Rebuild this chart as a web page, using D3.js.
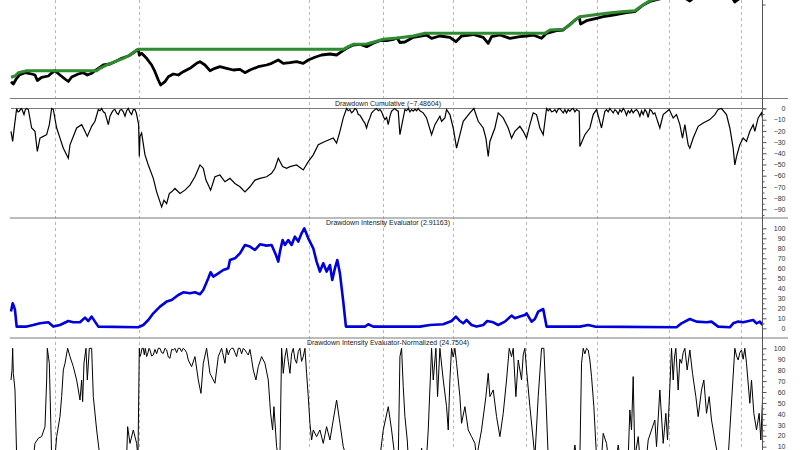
<!DOCTYPE html>
<html><head><meta charset="utf-8">
<script src="https://cdn.jsdelivr.net/npm/d3@7"></script>
<style>body{margin:0;background:#fff}svg{display:block}</style>
</head><body><svg id="c" width="800" height="450"></svg>
<script>
// ---- data: [day, value] ----
const priceLine = [[33,16.3],[40,14],[50,19.7],[58,23],[75,25.3],[95,24],[105,23],[112,17.5],[125,20.7],[145,22],[155,25],[165,27.3],[180,23],[195,19],[205,16.5],[215,21],[235,24],[250,25.3],[262,23],[275,24.7],[285,27.3],[295,29.7],[310,33],[330,34],[345,36.3],[365,39.7],[385,42],[405,46.3],[415,48.7],[418,43],[425,44.7],[440,39.7],[455,33],[465,26.3],[475,18],[482,13],[495,16.3],[505,21.3],[520,24],[535,23],[550,26.3],[570,29.7],[590,34.7],[600,36.3],[615,33],[630,27.3],[645,29.7],[660,31.3],[680,29.7],[700,28],[720,28.7],[735,25.3],[750,28],[775,31.3],[800,33],[815,34.7],[835,38],[850,34.7],[870,35.3],[890,36.3],[910,34.7],[925,38],[945,40.7],[965,43],[990,44],[1010,43],[1025,46.3],[1040,49.7],[1060,53],[1080,53.7],[1100,51.3],[1120,54.7],[1140,57.3],[1160,57.3],[1180,58.7],[1192,60],[1200,55.5],[1215,56],[1240,60.7],[1280,63],[1295,59.7],[1320,62],[1350,60.7],[1368,56.3],[1385,62],[1420,63.5],[1450,60.7],[1465,54.7],[1475,61.3],[1500,63],[1530,59.7],[1560,61.3],[1580,62],[1600,63],[1625,59.7],[1640,64.7],[1670,67.3],[1690,68],[1720,76.3],[1738,81],[1742,74],[1760,77.3],[1790,79.7],[1810,81.3],[1840,83],[1880,85.3],[1905,86.3],[1930,93],[1950,96.5],[1990,100],[2040,102],[2050,101],[2070,97],[2085,101],[2120,104],[2160,106],[2190,104],[2205,96],[2225,101],[2260,104],[2288,106]];

const peakLine = [[33,20.7],[45,22],[55,25.3],[80,27.3],[290,27.3],[300,29.7],[320,33],[345,36.3],[370,39.7],[390,43],[410,48],[418,48.7],[1030,48.7],[1045,51.3],[1060,53.7],[1100,54],[1125,56.3],[1150,58.7],[1192,60],[1240,62],[1275,64.7],[1635,64.7],[1650,68],[1690,68.7],[1710,73],[1725,78],[1740,81.3],[1780,83],[1820,84.7],[1865,86.3],[1905,87.3],[1925,92],[1945,96.3],[1960,98.5],[2000,100.5],[2060,103.5],[2120,105],[2180,107],[2288,108]];

const drawdown = [[33,-20.4],[38,-29.4],[42,-18.9],[50,0],[54,-3],[58,-2.4],[62,-0.5],[65,0],[72,-5.4],[76,-1],[80,0],[85,-0.9],[95,-17.4],[105,-20.4],[112,-38.4],[120,-26.4],[130,-24.9],[140,-23.4],[148,-14.4],[155,0],[160,-0.9],[170,-17.4],[180,-26.4],[190,-35.4],[205,-44.4],[210,-32.4],[222,-23.4],[230,-17.4],[245,-14.4],[255,-20.4],[262,-24.9],[275,-15.9],[285,-11.4],[295,-0.9],[300,-2],[305,0],[310,-3],[315,-3.9],[320,-9],[325,-14.4],[330,-7],[335,-3.9],[340,-1.5],[345,-0.9],[350,-4],[355,-5.4],[360,-1.5],[365,-0.9],[370,-3],[375,-6.9],[380,-2],[385,0],[390,-3.5],[395,-5.4],[400,-1],[405,-0.9],[409,-4],[412,-8.4],[416,-14.4],[418,-42.9],[420,-24.9],[425,-21.9],[435,-41.4],[445,-50.4],[460,-62.4],[470,-74.4],[480,-83.4],[485,-87.9],[492,-81.9],[500,-84.9],[508,-75.9],[515,-74.4],[525,-71.4],[540,-75.9],[555,-72.9],[570,-68.4],[585,-60.9],[600,-50.4],[610,-53.4],[618,-63.9],[625,-68.4],[632,-72.9],[645,-60.9],[660,-59.4],[675,-65.4],[690,-62.4],[705,-66.9],[720,-69.9],[735,-74.4],[750,-69.9],[765,-63.9],[780,-62.4],[800,-60.9],[815,-57.9],[825,-53.4],[835,-44.4],[848,-51.9],[860,-53.4],[870,-51.9],[890,-50.4],[910,-54.9],[925,-47.4],[940,-41.4],[955,-32.4],[975,-29.4],[1000,-26.4],[1010,-30.9],[1020,-20.4],[1030,-8.4],[1040,0],[1045,-2],[1050,-1],[1055,-3.9],[1060,-2.5],[1065,0],[1070,-1],[1075,-5.4],[1080,-6],[1085,-8.4],[1090,-11],[1095,-13],[1100,-17.4],[1105,-12],[1110,-8.4],[1115,-4],[1120,-2.4],[1125,-1],[1130,0],[1135,-2],[1140,-0.9],[1145,-3],[1150,-6.9],[1155,-10],[1160,-8],[1165,-14.4],[1170,-7],[1175,-2.4],[1180,-1],[1185,0],[1190,-1.5],[1195,-2.4],[1200,-23.4],[1215,-0.9],[1220,-2],[1225,0],[1230,-3],[1235,-1],[1240,-2.4],[1245,-0.5],[1250,-2],[1255,0],[1260,-2],[1270,-3.9],[1280,-8.4],[1295,-23.4],[1305,-14.4],[1320,-6.9],[1325,-11.4],[1335,-8.4],[1340,-0.9],[1350,-5.4],[1360,-17.4],[1370,-35.4],[1380,-23.4],[1390,-11.4],[1410,-3.9],[1422,0],[1435,-11.4],[1450,-17.4],[1458,-26.4],[1465,-42.9],[1470,-29.4],[1485,-17.4],[1495,-3.9],[1510,-8.4],[1525,-17.4],[1535,-26.4],[1545,-20.4],[1560,-15.9],[1570,-20.4],[1580,-26.4],[1590,-14.4],[1600,-3.9],[1610,-5.4],[1620,-17.4],[1630,-23.4],[1640,0],[1645,-2],[1650,-0.5],[1655,-3],[1660,-2.4],[1665,-1],[1670,-3.5],[1675,-0.5],[1680,0],[1685,-2],[1690,-4],[1695,-1],[1700,-3.9],[1705,-1],[1710,-2.5],[1715,-0.5],[1720,0],[1725,-3],[1730,-1],[1735,-2],[1738,-2.4],[1740,-33.9],[1755,-23.4],[1770,-17.4],[1780,-5.4],[1790,-0.9],[1805,-17.4],[1815,-2.4],[1820,-1],[1825,-3],[1830,0],[1835,-2],[1840,-4],[1845,-1],[1850,-2.4],[1855,-5],[1860,-1],[1865,-3],[1870,0],[1875,-2],[1880,-6],[1885,-2],[1890,-3.9],[1895,-1],[1900,-4],[1905,-2],[1910,-0.9],[1915,-3],[1920,-7],[1925,-2],[1930,-5.4],[1935,-1],[1940,-3],[1945,-8],[1950,-0.9],[1955,-2],[1960,-5],[1965,-3.9],[1980,-17.4],[1990,-5.4],[2008,-0.9],[2020,-8.4],[2030,-5.4],[2040,-14.4],[2048,-26.4],[2055,-14.4],[2065,-32.4],[2070,-35.4],[2080,-26.4],[2095,-15.9],[2110,-12.9],[2130,-9.9],[2145,-5.4],[2155,-0.9],[2165,0],[2180,-5.4],[2190,-17.4],[2200,-35.4],[2205,-50.4],[2210,-42.9],[2220,-32.4],[2230,-26.4],[2240,-29.4],[2250,-20.4],[2260,-14.4],[2265,-20.4],[2275,-8.4],[2285,-3.9],[2288,-8.4]];

const intensity = [[33,16.7],[38,25],[42,21.7],[45,18.3],[50,1.7],[80,1.7],[100,3.3],[120,5],[145,6],[160,1.7],[180,3.3],[205,7.3],[220,6],[240,6],[255,10.7],[265,7.3],[275,11.7],[285,6.7],[295,1.7],[415,1],[430,3.3],[445,8.3],[460,15],[480,21.7],[500,26.7],[515,28.3],[535,33.3],[550,36],[570,35],[585,36],[600,34],[610,38.3],[625,50],[632,56],[640,51.7],[655,55],[670,58.3],[685,60],[690,68.3],[705,70],[720,75],[735,83.3],[750,81.7],[765,78.3],[780,84],[800,82.7],[815,83.3],[828,73.3],[835,66.7],[840,76.7],[848,88.3],[855,83.3],[865,88.3],[875,83.3],[885,91.7],[895,86.7],[905,95],[913,100],[925,90],[940,80],[950,66.7],[960,56.7],[970,65],[980,56.7],[990,63.3],[997,48.3],[1005,60],[1012,68.3],[1020,55],[1030,26.7],[1038,1.7],[1095,1.7],[1105,4],[1120,1.7],[1260,1.7],[1290,3.3],[1330,4],[1355,7.3],[1368,11.7],[1380,7.3],[1390,5],[1400,8.3],[1415,3.3],[1430,1.7],[1450,3.3],[1462,7.3],[1480,6],[1495,3.3],[1515,6.7],[1535,12.7],[1545,10],[1560,11.7],[1575,13.3],[1580,15],[1595,6.7],[1605,9.3],[1615,16.7],[1630,19.3],[1640,1.7],[1740,1.7],[1765,3.3],[1785,1.7],[2030,1],[2045,5],[2070,9.3],[2090,6.7],[2120,6],[2135,6.7],[2155,1.7],[2190,1],[2200,5],[2215,6.7],[2230,6],[2260,8.3],[2270,5],[2280,6.7],[2288,3.3]];

const normalized = [[33,71],[36,80],[38,100],[40,77],[45,62],[50,0],[100,0],[105,13],[115,17.7],[125,19.2],[135,28.3],[140,71],[142,100],[148,86.3],[155,0],[165,0],[170,19.2],[180,37.5],[185,55.8],[190,80.2],[195,86.3],[203,100],[210,92.4],[220,83.2],[230,71],[235,61.9],[240,52.7],[245,71],[248,51.2],[252,86.3],[258,100],[262,71],[268,100],[275,100],[280,55.8],[290,25.3],[300,0],[380,0],[383,28.3],[390,13],[400,25.3],[410,13],[414,0],[418,100],[420,92.4],[423,95],[426,100],[430,100],[433,94],[436,100],[440,92.4],[444,96],[447,100],[450,98.5],[455,93],[460,93.9],[465,99],[470,95],[475,100],[480,100],[485,96],[490,95.4],[495,100],[500,98.5],[505,92],[510,90.9],[515,99],[520,98.5],[525,100],[530,96],[535,100],[540,100],[545,97],[550,100],[555,98.5],[560,96],[565,89.3],[575,83.2],[585,92.4],[595,71],[603,58.8],[610,86.3],[620,100],[630,77.1],[645,68],[655,92.4],[665,100],[668,96],[675,86.3],[680,100],[685,94],[690,98.5],[695,100],[700,100],[705,96],[710,92.4],[715,100],[720,100],[725,95],[730,100],[735,98.5],[740,96],[745,93.9],[750,99],[755,90],[760,80.2],[768,71],[775,83.2],[785,92.4],[795,86.3],[805,71],[812,40.5],[818,25.3],[822,46.6],[830,10],[835,0],[840,0],[845,100],[850,77.1],[855,92],[860,100],[865,88],[870,77.1],[875,95],[880,100],[885,90],[890,86.3],[895,97],[900,100],[905,88],[910,92.4],[915,100],[920,77.1],[925,55.8],[930,31.4],[935,16.1],[940,25.3],[950,19.2],[960,25.3],[970,13],[980,28.3],[990,16.1],[1000,34.4],[1010,52.7],[1020,31.4],[1030,10],[1040,0],[1140,0],[1150,25.3],[1165,46.6],[1175,25.3],[1185,0],[1195,0],[1198,52.7],[1200,92.4],[1205,100],[1210,64.9],[1215,37.5],[1222,16.1],[1225,0],[1262,0],[1265,8.5],[1270,0],[1280,0],[1285,25.3],[1295,100],[1300,71],[1308,100],[1313,55.8],[1320,100],[1330,71],[1340,46.6],[1345,25.3],[1350,71],[1355,100],[1360,92],[1365,100],[1370,86.3],[1380,55.8],[1385,31.4],[1395,46.6],[1405,25.3],[1415,19.2],[1425,13],[1430,0],[1445,25.3],[1458,55.8],[1465,77.1],[1470,55.8],[1480,61.9],[1490,37.5],[1500,19.2],[1510,40.5],[1520,71],[1528,100],[1535,92.4],[1540,100],[1548,55.8],[1555,89.3],[1565,71],[1570,94],[1575,100],[1580,80.2],[1590,46.6],[1600,16.1],[1605,0],[1615,55.8],[1625,100],[1632,100],[1638,55.8],[1645,0],[1720,0],[1725,11.5],[1730,0],[1740,0],[1745,86.3],[1750,100],[1755,95],[1760,100],[1765,98.5],[1770,89.3],[1775,74.1],[1782,46.6],[1790,0],[1805,0],[1810,22.2],[1820,13],[1825,0],[1850,0],[1855,11.5],[1860,0],[1885,0],[1890,43.6],[1895,25.3],[1900,74.1],[1905,0],[1915,19.2],[1920,0],[1940,0],[1945,16.1],[1965,34.4],[1970,10],[1980,61.9],[1990,13],[1998,40.5],[2003,16.1],[2015,100],[2020,71],[2024,92],[2028,100],[2035,61.9],[2040,90],[2045,86.3],[2050,96],[2055,100],[2062,80.2],[2070,98.5],[2078,77.1],[2088,55.8],[2095,37.5],[2105,61.9],[2112,71],[2120,40.5],[2128,55.8],[2135,34.4],[2145,16.1],[2155,0],[2185,0],[2190,25.3],[2205,100],[2210,93],[2215,89.3],[2220,96],[2225,98.5],[2230,90],[2235,100],[2240,86.3],[2250,49.7],[2255,71],[2262,40.5],[2270,25.3],[2278,40.5],[2283,16.1],[2288,52.7]];

const gridDays = [165, 418, 928, 1148, 1360, 1577, 1790, 2008, 2223];
const ddTicks = [0,-10,-20,-30,-40,-50,-60,-70,-80,-90];
const pctTicks = [0,10,20,30,40,50,60,70,80,90,100];
const normTicks = [10,20,30,40,50,60,70,80,90,100];
const titles = ["Drawdown Cumulative (\u22127.48604)", "Drawdown Intensity Evaluator (2.91163)", "Drawdown Intensity Evaluator-Normalized (24.7504)"];

// ---- layout ----
const svg = d3.select("#c");
const W = 800, H = 450;
const axisX = 762.5;
const x = d3.scaleLinear().domain([33, 2288]).range([11, axisX]);

const yTop = d3.scaleLinear().domain([0, 98]).range([98, 0]);
const yDD = d3.scaleLinear().domain([-90, 0]).range([209.3, 108.5]);
const yInt = d3.scaleLinear().domain([0, 100]).range([328.3, 228.3]);
const yNorm = d3.scaleLinear().domain([0, 100]).range([457.6, 348.3]);

const seps = [98.5, 218, 338];

// gridlines
svg.append("g").selectAll("line").data(gridDays).join("line")
  .attr("x1", d => Math.round(x(d)) + 0.5).attr("x2", d => Math.round(x(d)) + 0.5)
  .attr("y1", 0).attr("y2", H)
  .attr("stroke", "#b8b8b8").attr("stroke-width", 1).attr("stroke-dasharray", "3,3");

// separators
svg.append("g").selectAll("line").data(seps).join("line")
  .attr("x1", 10).attr("x2", 788).attr("y1", d => d).attr("y2", d => d)
  .attr("stroke", "#7a7a7a").attr("stroke-width", 1.2);
// zero line of drawdown panel
svg.append("line").attr("x1", 11).attr("x2", axisX + 3).attr("y1", yDD(0)).attr("y2", yDD(0))
  .attr("stroke", "#7a7a7a").attr("stroke-width", 1.2);

function mkLine(ys) {
  return d3.line().x(d => x(d[0])).y(d => ys(d[1]));
}

// top panel
const gTop = svg.append("g");
gTop.append("path").datum(priceLine).attr("d", mkLine(yTop))
  .attr("fill", "none").attr("stroke", "#000").attr("stroke-width", 2.8).attr("stroke-linejoin", "round");
gTop.append("path").datum(peakLine).attr("d", mkLine(yTop))
  .attr("fill", "none").attr("stroke", "#2e8b2e").attr("stroke-width", 3).attr("stroke-linejoin", "round");

// drawdown panel
svg.append("path").datum(drawdown).attr("d", mkLine(yDD))
  .attr("fill", "none").attr("stroke", "#000").attr("stroke-width", 1.2);

// intensity panel
svg.append("path").datum(intensity).attr("d", mkLine(yInt))
  .attr("fill", "none").attr("stroke", "#0000dd").attr("stroke-width", 2.6).attr("stroke-linejoin", "round");

// normalized panel
svg.append("path").datum(normalized).attr("d", mkLine(yNorm))
  .attr("fill", "none").attr("stroke", "#000").attr("stroke-width", 1);

// right axis line
svg.append("line").attr("x1", axisX).attr("x2", axisX).attr("y1", 0).attr("y2", H)
  .attr("stroke", "#555").attr("stroke-width", 1);

function drawAxis(scale, ticks, minor) {
  const g = svg.append("g").attr("transform", `translate(${axisX},0)`);
  g.call(d3.axisRight(scale).tickValues(ticks).tickSize(4).tickFormat(d3.format("d")));
  g.select(".domain").remove();
  g.selectAll(".tick line").attr("stroke", "#555");
  g.selectAll(".tick text").attr("x", 23).attr("text-anchor", "end")
    .attr("font-family", "Arial, 'Liberation Sans', sans-serif").attr("font-size", 7).attr("fill", "#333");
  const gm = svg.append("g").attr("transform", `translate(${axisX},0)`);
  gm.call(d3.axisRight(scale).tickValues(minor).tickSize(2).tickFormat(""));
  gm.select(".domain").remove();
  gm.selectAll(".tick line").attr("stroke", "#555");
}
drawAxis(yDD, ddTicks, ddTicks.map(d => d - 5));
drawAxis(yInt, pctTicks, pctTicks.slice(0, -1).map(d => d + 5));
drawAxis(yNorm, normTicks, normTicks.slice(0, -1).map(d => d + 5));
// top panel tick
svg.append("line").attr("x1", axisX).attr("x2", axisX + 3).attr("y1", 5).attr("y2", 5).attr("stroke", "#555");

// titles
svg.append("g").selectAll("text").data(titles).join("text")
  .attr("x", 388).attr("y", (d, i) => seps[i] + 7.3)
  .attr("text-anchor", "middle")
  .attr("font-family", "Arial, 'Liberation Sans', sans-serif").attr("font-size", 7).attr("fill", "#222")
  .text(d => d);
</script>
</body></html>
